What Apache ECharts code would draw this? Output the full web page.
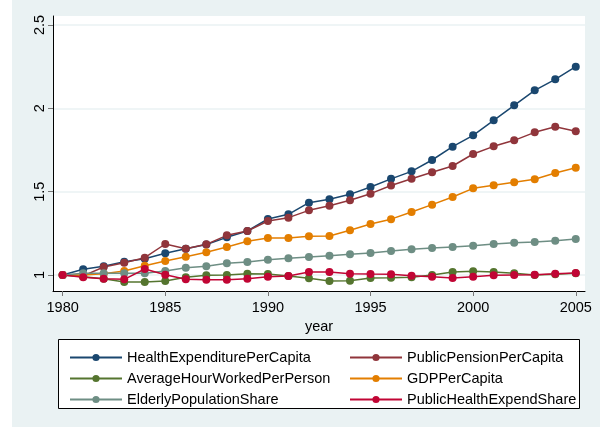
<!DOCTYPE html>
<html>
<head>
<meta charset="utf-8">
<script src="https://cdn.jsdelivr.net/npm/echarts@6/dist/echarts.min.js"></script>
<style>
  html, body { margin: 0; padding: 0; background: #fff; }
  #bg { position: absolute; left: 12px; top: 0; width: 588px; height: 427px; background: #eaf2f3; }
  #main { position: absolute; left: 0; top: 0; width: 600px; height: 431px; }
</style>
</head>
<body>
<div id="bg"></div>
<div id="main"></div>
<script>
const years = [1980, 1981, 1982, 1983, 1984, 1985, 1986, 1987, 1988, 1989, 1990, 1991, 1992,
  1993, 1994, 1995, 1996, 1997, 1998, 1999, 2000, 2001, 2002, 2003, 2004, 2005]
const xTicks = [1980, 1985, 1990, 1995, 2000, 2005]
const yTicks = [1, 1.5, 2, 2.5]

const healthExp = [1.0, 1.034, 1.052, 1.08, 1.098, 1.13, 1.158, 1.183, 1.226, 1.264, 1.336, 1.364, 1.434,
  1.454, 1.484, 1.528, 1.577, 1.622, 1.69, 1.77, 1.838, 1.928, 2.018, 2.108, 2.174, 2.25]
const pension = [1.0, 0.995, 1.048, 1.074, 1.104, 1.186, 1.158, 1.184, 1.238, 1.264, 1.324, 1.344, 1.388,
  1.416, 1.448, 1.488, 1.537, 1.578, 1.616, 1.654, 1.726, 1.772, 1.808, 1.856, 1.89, 1.862]
const hoursWorked = [1.0, 0.99, 0.978, 0.958, 0.958, 0.964, 0.986, 0.998, 1.0, 1.008, 1.006, 0.994, 0.98,
  0.964, 0.966, 0.982, 0.983, 0.986, 1.0, 1.018, 1.022, 1.018, 1.01, 1.0, 1.004, 1.01]
const gdp = [1.0, 1.0, 1.008, 1.024, 1.056, 1.084, 1.11, 1.136, 1.168, 1.202, 1.222, 1.222, 1.232,
  1.234, 1.268, 1.306, 1.335, 1.378, 1.422, 1.468, 1.52, 1.538, 1.556, 1.574, 1.612, 1.644]
const elderly = [1.0, 1.01, 1.01, 1.01, 1.01, 1.024, 1.043, 1.052, 1.07, 1.078, 1.092, 1.1, 1.108,
  1.116, 1.124, 1.132, 1.144, 1.154, 1.162, 1.168, 1.176, 1.186, 1.194, 1.198, 1.206, 1.216]
const publicHealth = [1.0, 0.986, 0.978, 0.974, 1.036, 1.002, 0.975, 0.972, 0.972, 0.977, 0.989, 0.994, 1.018,
  1.018, 1.008, 1.006, 1.005, 0.996, 0.99, 0.982, 0.99, 0.998, 1.0, 1.002, 1.008, 1.012]

const seriesDefs = [
  { name: 'HealthExpenditurePerCapita', data: healthExp, color: '#1a476f' },
  { name: 'PublicPensionPerCapita', data: pension, color: '#90353b' },
  { name: 'AverageHourWorkedPerPerson', data: hoursWorked, color: '#55752f' },
  { name: 'GDPPerCapita', data: gdp, color: '#e37e00' },
  { name: 'ElderlyPopulationShare', data: elderly, color: '#6e8e84' },
  { name: 'PublicHealthExpendShare', data: publicHealth, color: '#c10534' },
]

const font = 'Liberation Sans'
const chart = echarts.init(document.getElementById('main'))

// two vertical legends side by side, like Stata's 2-column legend
const legendBase = {
  orient: 'vertical',
  top: 344,
  itemWidth: 52,
  itemHeight: 9,
  itemGap: 4,
  textStyle: { fontFamily: font, fontSize: 14.5, lineHeight: 17, color: '#000' },
}

const options = {
  animation: false,
  backgroundColor: 'transparent',
  graphic: [
    {
      type: 'rect',
      z: 0,
      shape: { x: 58.5, y: 339.5, width: 521, height: 69 },
      style: { fill: '#fff', stroke: '#000', lineWidth: 1 },
    },
  ],
  grid: {
    left: 53,
    right: 15,
    top: 16,
    bottom: 140,
    show: true,
    backgroundColor: '#fff',
    borderWidth: 0,
  },
  legend: [
    Object.assign({}, legendBase, {
      left: 64,
      data: [seriesDefs[0].name, seriesDefs[2].name, seriesDefs[4].name],
    }),
    Object.assign({}, legendBase, {
      left: 344,
      data: [seriesDefs[1].name, seriesDefs[3].name, seriesDefs[5].name],
    }),
  ],
  xAxis: {
    type: 'value',
    min: 1979.53,
    max: 2005.45,
    name: 'year',
    nameLocation: 'middle',
    nameGap: 23,
    nameTextStyle: { fontFamily: font, fontSize: 14.5, color: '#000' },
    axisLine: { lineStyle: { color: '#000', width: 1 } },
    axisTick: { customValues: xTicks, length: 5, lineStyle: { color: '#777' } },
    axisLabel: {
      customValues: xTicks,
      formatter: (v) => String(v),
      margin: 9,
      fontFamily: font,
      fontSize: 14.5,
      color: '#000',
    },
    splitLine: { show: false },
  },
  yAxis: {
    type: 'value',
    min: 0.904,
    max: 2.554,
    axisLine: { show: true, lineStyle: { color: '#000', width: 1 } },
    axisTick: { show: true, customValues: yTicks, length: 5, lineStyle: { color: '#777' } },
    axisLabel: {
      customValues: yTicks,
      rotate: 90,
      margin: 6,
      fontFamily: font,
      fontSize: 14.5,
      color: '#000',
    },
    splitLine: { show: true, lineStyle: { color: '#eaf2f3', width: 1.5 } },
  },
  series: seriesDefs.map((s) => ({
    name: s.name,
    type: 'line',
    data: years.map((y, i) => [y, s.data[i]]),
    color: s.color,
    symbol: 'circle',
    symbolSize: 8,
    showAllSymbol: true,
    lineStyle: { width: 1.5, color: s.color },
    itemStyle: { color: s.color },
  })),
}

chart.setOption(options)
</script>
</body>
</html>
